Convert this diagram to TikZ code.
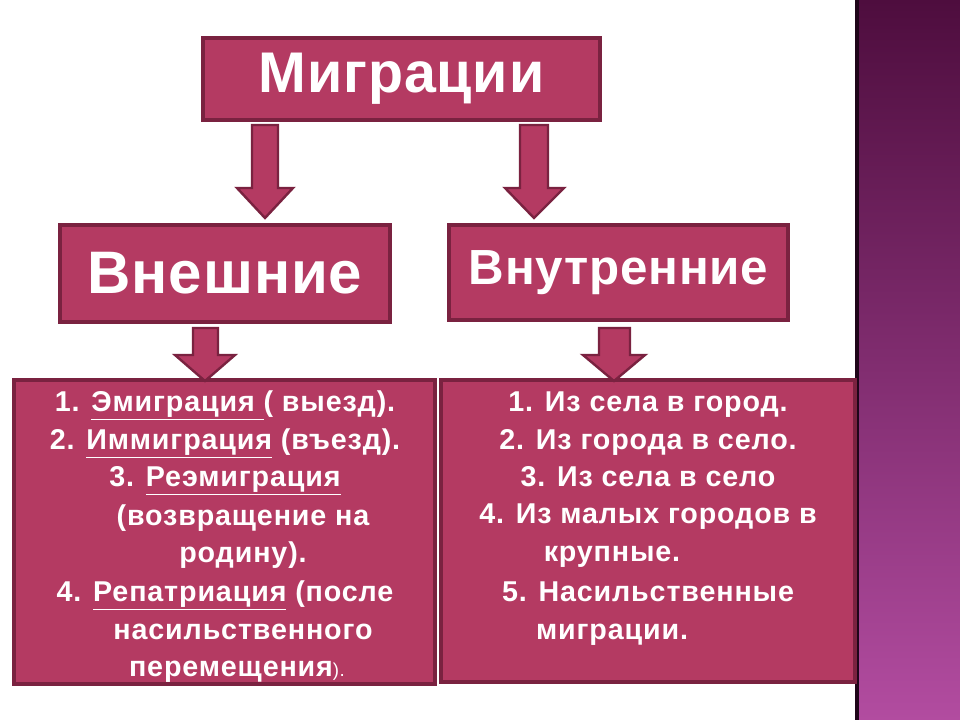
\documentclass[tikz,border=0pt]{standalone}
\usepackage{fontspec}
\setmainfont{Liberation Sans}
\newfontfamily\wideA[LetterSpace=3]{Liberation Sans}
\newfontfamily\wideB[LetterSpace=1.5]{Liberation Sans}
\definecolor{boxfill}{RGB}{180,58,98}
\definecolor{boxline}{RGB}{122,34,64}
\definecolor{bandtop}{RGB}{78,13,62}
\definecolor{bandbot}{RGB}{178,76,160}
\begin{document}
\begin{tikzpicture}[x=0.75pt,y=-0.75pt,
  box/.style={draw=boxline,fill=boxfill,line width=2.6pt},
  arr/.style={draw=boxline,fill=boxfill,line width=1.8pt,line join=miter},
  lt/.style={text=white,font=\wideA\bfseries\fontsize{21.5}{24}\selectfont,inner sep=0pt,anchor=base}]
\useasboundingbox (0,0) rectangle (960,720);
\fill[white] (0,0) rectangle (960,720);
\shade[top color=bandtop,bottom color=bandbot] (857,0) rectangle (960,720);
\fill[black!60!bandtop] (855,0) rectangle (859,720);
% top boxes
\node[box,minimum width=397*0.75pt,minimum height=82*0.75pt,text=white,font=\wideB\bfseries\fontsize{43}{46}\selectfont] (mig) at (401.5,79) {Миграции};
\node[box,minimum width=330*0.75pt,minimum height=97*0.75pt,text=white,font=\wideB\bfseries\fontsize{45}{50}\selectfont] (ext) at (225,273.5) {Внешние};
\node[box,minimum width=339*0.75pt,minimum height=95*0.75pt,text=white,font=\wideB\bfseries\fontsize{37}{42}\selectfont] (int) at (618.5,272.5) {Внутренние};
\node[box,minimum width=421*0.75pt,minimum height=304*0.75pt] (lst) at (224.5,532) {};
\node[box,minimum width=414*0.75pt,minimum height=302*0.75pt] (rst) at (648,531) {};
% arrows
\draw[arr] (252,125) -- (278,125) -- (278,188) -- (293,188) -- (265,218) -- (237,188) -- (252,188) -- cycle;
\draw[arr] (520,125) -- (548,125) -- (548,188) -- (564,188) -- (534,218) -- (505,188) -- (520,188) -- cycle;
\draw[arr] (193,328) -- (218,328) -- (218,355) -- (235,355) -- (205,381) -- (175,355) -- (193,355) -- cycle;
\draw[arr] (599,328) -- (630,328) -- (630,355) -- (645,355) -- (614,381) -- (583,355) -- (599,355) -- cycle;
% left list
\node[lt] (l1) at (225,411) {1. \underline{Эмиграция }( выезд).};
\node[lt] (l2) at (225,449) {2. \underline{Иммиграция} (въезд).};
\node[lt] (l3) at (225,486) {3. \underline{Реэмиграция}};
\node[lt] (l4) at (243,525) {(возвращение на};
\node[lt] (l5) at (243,562) {родину).};
\node[lt] (l6) at (225,601) {4. \underline{Репатриация} (после};
\node[lt] (l7) at (243,639) {насильственного};
\node[lt] (l8) at (237,676) {перемещения{\mdseries\fontsize{14}{15}\selectfont).}};
% right list
\node[lt] (r1) at (648,411) {1. Из села в город.};
\node[lt] (r2) at (648,449) {2. Из города в село.};
\node[lt] (r3) at (648,486) {3. Из села в село};
\node[lt] (r4) at (648,523) {4. Из малых городов в};
\node[lt] (r5) at (612,561) {крупные.};
\node[lt] (r6) at (648,601) {5. Насильственные};
\node[lt] (r7) at (612,639) {миграции.};
\end{tikzpicture}
\end{document}
